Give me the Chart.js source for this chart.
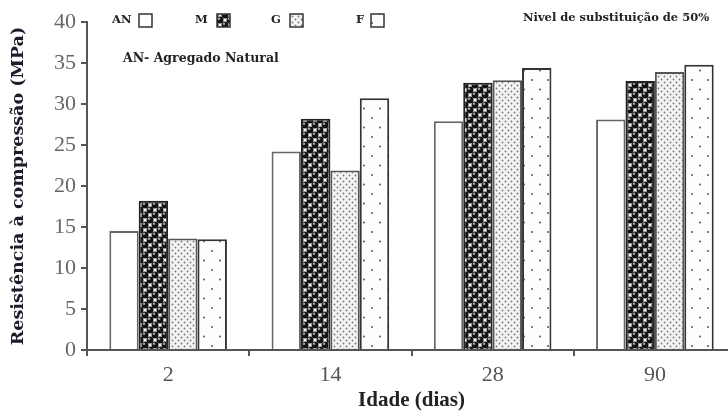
<!DOCTYPE html>
<html>
<head>
<meta charset="utf-8">
<script src="https://cdn.jsdelivr.net/npm/chart.js@4.4.1/dist/chart.umd.min.js"></script>
<style>
  html, body { margin: 0; padding: 0; background: #fff; overflow: hidden; width: 728px; height: 416px; }
  canvas { display: block; }
</style>
</head>
<body>
<canvas id="chart" width="740" height="416"></canvas>
<script>
const ages = ['2', '14', '28', '90'];
const seriesNames = ['AN', 'M', 'G', 'F'];
const valuesAN = [14.5, 24.2, 27.9, 28.1];
const valuesM = [18.2, 28.2, 32.6, 32.8];
const valuesG = [13.6, 21.9, 32.9, 33.9];
const valuesF = [13.5, 30.7, 34.4, 34.8];
const yTicks = [0, 5, 10, 15, 20, 25, 30, 35, 40];

const SERIF = '"Liberation Serif", "DejaVu Serif", serif';
const WIDE = '"DejaVu Serif", serif';

function makeTile(w, h, draw) {
  const c = document.createElement('canvas');
  c.width = w; c.height = h;
  const g = c.getContext('2d');
  draw(g);
  return document.getElementById('chart').getContext('2d').createPattern(c, 'repeat');
}

// black balls
const patM = makeTile(10, 10, g => {
  g.fillStyle = '#f6f6f6';
  g.fillRect(0, 0, 10, 10);
  [[0, 0], [10, 0], [0, 10], [10, 10], [5, 5]].forEach(([x, y]) => {
    g.beginPath(); g.arc(x, y, 3.5, 0, Math.PI * 2); g.fillStyle = '#121212'; g.fill();
    g.beginPath(); g.arc(x - 1, y - 1.2, 1.3, 0, Math.PI * 2); g.fillStyle = '#a0a0a0'; g.fill();
  });
});

// fine dots
const patG = makeTile(6, 6, g => {
  g.fillStyle = '#f4f4f4';
  g.fillRect(0, 0, 6, 6);
  g.fillStyle = '#777';
  g.beginPath(); g.arc(1.5, 1.5, 0.9, 0, Math.PI * 2); g.fill();
  g.beginPath(); g.arc(4.5, 4.5, 0.9, 0, Math.PI * 2); g.fill();
});

// sparse dots
const patF = makeTile(16, 19, g => {
  g.fillStyle = '#fdfdfd';
  g.fillRect(0, 0, 16, 19);
  g.fillStyle = '#555';
  g.beginPath(); g.arc(4, 4, 1, 0, Math.PI * 2); g.fill();
  g.beginPath(); g.arc(12, 13.5, 1, 0, Math.PI * 2); g.fill();
});

const fills = ['#ffffff', patM, patG, patF];
const borders = ['#666', '#222', '#555', '#333'];
const seriesValues = [valuesAN, valuesM, valuesG, valuesF];

const annotations = {
  id: 'annotations',
  afterDraw(chart) {
    const ctx = chart.ctx;
    ctx.save();
    ctx.textBaseline = 'middle';
    ctx.font = 'bold 11.5px ' + WIDE;
    const legend = [[112, 139], [195, 217], [271, 290], [356, 371]];
    legend.forEach(([tx, bx], i) => {
      ctx.fillStyle = '#222';
      ctx.fillText(seriesNames[i], tx, 20);
      ctx.fillStyle = fills[i];
      ctx.fillRect(bx, 14, 13, 13);
      ctx.strokeStyle = '#333';
      ctx.lineWidth = 1.5;
      ctx.strokeRect(bx, 14, 13, 13);
    });
    ctx.fillStyle = '#222';
    ctx.font = 'bold 12.5px ' + WIDE;
    ctx.fillText('AN- Agregado Natural', 123, 59);
    ctx.font = 'bold 11.5px ' + WIDE;
    ctx.fillText('Nivel de substituição de 50%', 523, 18);
    ctx.restore();
  }
};

new Chart(document.getElementById('chart'), {
  type: 'bar',
  data: {
    labels: ages,
    datasets: seriesNames.map((name, i) => ({
      label: name,
      data: seriesValues[i],
      backgroundColor: fills[i],
      borderColor: borders[i],
      borderWidth: 2,
      borderSkipped: 'bottom',
      barPercentage: 1,
      categoryPercentage: 0.725,
    }))
  },
  options: {
    responsive: false,
    animation: false,
    layout: { padding: { top: 22, right: 4, left: 0, bottom: 0 } },
    plugins: { legend: { display: false }, tooltip: { enabled: false } },
    scales: {
      x: {
        afterFit: s => { s.height = 66; },
        grid: { drawOnChartArea: false, drawTicks: true, tickLength: 6, color: '#555', lineWidth: 2, offset: true },
        border: { display: true, color: '#555', width: 2 },
        ticks: { color: '#555', padding: 6, font: { family: SERIF, size: 22 } },
        title: { display: true, text: 'Idade (dias)', color: '#222', padding: { top: 0, bottom: 3 }, font: { family: SERIF, size: 21, weight: 'bold' } }
      },
      y: {
        min: 0,
        max: 40,
        afterFit: s => { s.width = 87; },
        afterBuildTicks: s => { s.ticks = yTicks.map(v => ({ value: v })); },
        grid: { drawOnChartArea: false, drawTicks: true, tickLength: 6, color: '#555', lineWidth: 2 },
        border: { display: true, color: '#555', width: 2 },
        ticks: { color: '#666', padding: 5, font: { family: SERIF, size: 22 } },
        title: { display: true, text: 'Resistência à compressão (MPa)', color: '#1c1c2a', padding: { top: 8, bottom: 0 }, font: { family: WIDE, size: 17.5, weight: 'bold' } }
      }
    }
  },
  plugins: [annotations]
});
</script>
</body>
</html>
